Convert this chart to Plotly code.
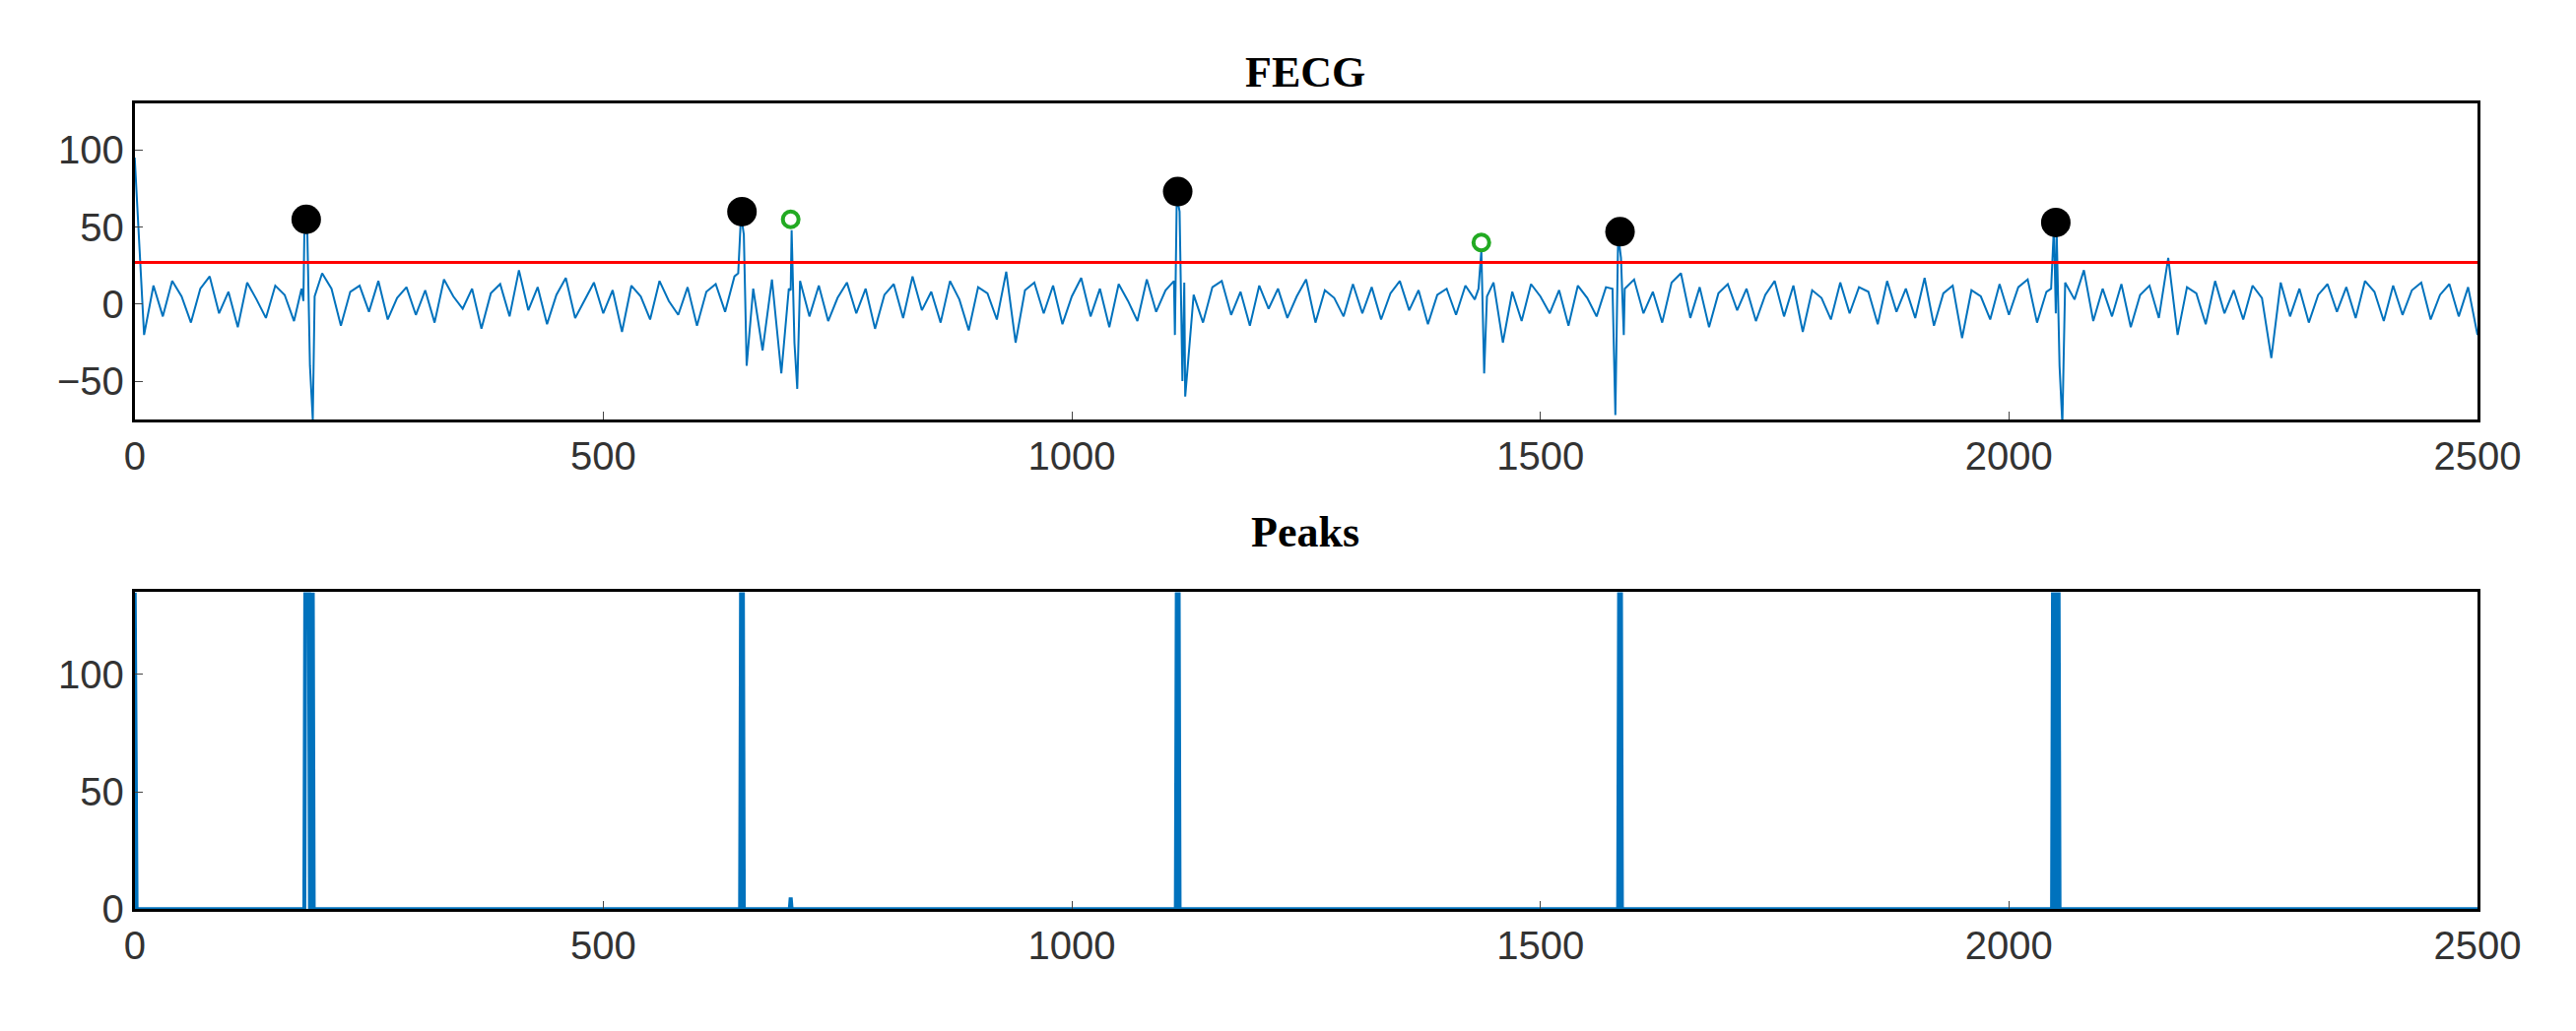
import plotly.graph_objects as go
from plotly.subplots import make_subplots

# FECG background samples every 10 points (0..2500), hand-read approximations
base_step = 10
base_vals = [95, -20, 12, -8, 15, 5, -12, 10, 18, -6, 8, -15, 14, 3, -9, 12, 6, -11, 2, -48,
             20, 10, -14, 8, 12, -5, 15, -10, 4, 11, -7, 9, -12, 16, 5, -3, 10, -16, 7, 13,
             -8, 22, -4, 11, -13, 6, 17, -9, 3, 14, -6, 9, -18, 12, 5, -10, 15, 2, -7, 11,
             -14, 8, 13, -5, 18, -20, 10, -30, 16, -45, 9, 15, -8, 12, -11, 4, 14, -6, 10, -16,
             6, 13, -9, 18, -4, 8, -12, 15, 3, -17, 11, 7, -10, 21, -25, 9, 14, -6, 12, -13,
             5, 17, -8, 10, -15, 13, 2, -11, 16, -5, 9, -20, 14, 6, -12, 11, 15, -7, 8, -14,
             12, -3, 10, -9, 5, 16, -12, 9, 4, -8, 13, -6, 11, -10, 7, 15, -4, 9, -13, 6,
             10, -7, 12, 3, -9, 14, -25, 8, -11, 13, 5, -6, 9, -14, 12, 4, -8, 11, -30, 10,
             16, -6, 8, -12, 14, 20, -9, 11, -15, 7, 13, -4, 10, -11, 6, 15, -8, 12, -18, 9,
             4, -10, 14, -6, 11, 8, -13, 15, -5, 10, -9, 17, -14, 7, 12, -22, 9, 5, -10, 13,
             -7, 11, 16, -12, 8, -6, 14, 3, 22, -11, 10, -8, 13, -15, 6, 12, -9, 30, -20, 11,
             7, -13, 15, -6, 9, -10, 12, 4, -35, 14, -8, 10, -12, 6, 13, -5, 11, -9, 15, 8,
             -11, 12, -7, 9, 14, -10, 6, 13, -8, 11, -20]

# Spike samples (x, y) superimposed on the FECG trace
spike_x = [178, 181, 184, 187, 190, 192, 644, 647, 650, 653, 698, 701, 704, 707,
           1109, 1112, 1115, 1118, 1121, 1434, 1437, 1440, 1443, 1577, 1580, 1583, 1586, 1589,
           2045, 2048, 2051, 2054, 2057]
spike_y = [10, 45, 52, -40, -75, 5, 20, 58, 45, -40, 10, 48, -25, -55,
           15, 70, 60, -50, -60, 10, 35, -45, 5, 10, -72, 45, 30, -20,
           10, 50, 45, -40, -78]

thresh = 27
r_x = [183, 648, 1113, 1585, 2050]
r_y = [55, 60, 73, 47, 53]
g_x = [700, 1437]
g_y = [55, 40]

peaks_x = [0, 1, 2, 181, 182, 186, 187, 189, 190, 191, 646, 647, 649, 650, 651, 699, 700, 701,
           1111, 1112, 1114, 1115, 1583, 1584, 1586, 1587, 2046, 2047, 2049, 2050, 2052, 2053, 2054, 2500]
peaks_y = [135, 0, 0, 0, 135, 135, 0, 0, 135, 0, 0, 135, 135, 0, 0, 0, 5, 0,
           0, 135, 135, 0, 0, 135, 135, 0, 0, 135, 135, 0, 135, 135, 0, 0]

pts = {i * base_step: v for i, v in enumerate(base_vals)}
for x, y in zip(spike_x, spike_y):
    pts[x] = y
xs = sorted(pts)
ys = [pts[x] for x in xs]

blue = "#0072BD"
fig = make_subplots(rows=2, cols=1)
fig.add_trace(go.Scatter(x=xs, y=ys, mode="lines", line=dict(color=blue, width=2)), 1, 1)
fig.add_trace(go.Scatter(x=[0, 2500], y=[thresh, thresh], mode="lines", line=dict(color="red", width=3)), 1, 1)
fig.add_trace(go.Scatter(x=r_x, y=r_y, mode="markers",
                         marker=dict(color="black", size=30, symbol="circle")), 1, 1)
fig.add_trace(go.Scatter(x=g_x, y=g_y, mode="markers",
                         marker=dict(color="#22AA22", size=16, symbol="circle-open", line=dict(width=4))), 1, 1)
fig.add_trace(go.Scatter(x=peaks_x, y=peaks_y, mode="lines", line=dict(color=blue, width=4)), 2, 1)

ax = dict(showgrid=False, zeroline=False, showline=True, mirror=True, linecolor="black", linewidth=3,
          ticks="inside", ticklen=8, tickfont=dict(family="Liberation Sans", size=40, color="#333"))
fig.update_xaxes(**ax, range=[0, 2500], tickvals=[0, 500, 1000, 1500, 2000, 2500])
fig.update_layout(
    width=2615, height=1047, showlegend=False, plot_bgcolor="white", paper_bgcolor="white",
    margin=dict(l=0, r=0, t=0, b=0),
    xaxis=dict(domain=[0.046, 0.975]), xaxis2=dict(domain=[0.046, 0.975]),
    yaxis=dict(**ax, domain=[0.592, 0.905], range=[-75, 130], tickvals=[-50, 0, 50, 100]),
    yaxis2=dict(**ax, domain=[0.107, 0.421], range=[0, 135], tickvals=[0, 50, 100]),
    annotations=[
        dict(text="<b>FECG</b>", x=0.51, y=0.91, xref="paper", yref="paper", showarrow=False,
             yanchor="bottom", font=dict(family="Liberation Serif", size=44, color="black")),
        dict(text="<b>Peaks</b>", x=0.51, y=0.455, xref="paper", yref="paper", showarrow=False,
             yanchor="bottom", font=dict(family="Liberation Serif", size=44, color="black")),
    ],
)
fig.write_html("out.html")
